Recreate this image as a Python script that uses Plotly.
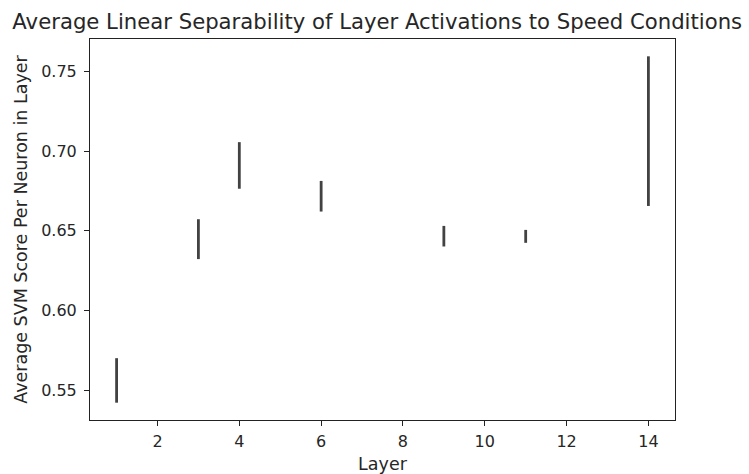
import plotly.graph_objects as go

# Per-layer spread of the average SVM score (lower / upper end of each interval)
layers = [1, 3, 4, 6, 9, 11, 14]
score_low = [0.5423, 0.6323, 0.6764, 0.6621, 0.6402, 0.6425, 0.6656]
score_high = [0.5702, 0.6573, 0.7056, 0.6813, 0.6531, 0.6506, 0.7594]

x_ticks = [2, 4, 6, 8, 10, 12, 14]
y_ticks = [0.55, 0.60, 0.65, 0.70, 0.75]

# Build vertical segments separated by gaps
seg_x, seg_y = [], []
for layer, lo, hi in zip(layers, score_low, score_high):
    seg_x += [layer, layer, None]
    seg_y += [lo, hi, None]

fig = go.Figure()
fig.add_trace(go.Scatter(
    x=seg_x, y=seg_y, mode="lines",
    line=dict(color="#424242", width=2.8),
    showlegend=False, hoverinfo="skip",
))

# 5% padding around the data, matplotlib-style
x_pad = (max(layers) - min(layers)) * 0.05
y_pad = (max(score_high) - min(score_low)) * 0.05

font_family = "DejaVu Sans"
text_color = "#262626"
axis_common = dict(
    showline=True, mirror=True, linecolor="#222222", linewidth=1.1,
    ticks="outside", ticklen=5, tickwidth=1.1, tickcolor="#222222",
    showgrid=False, zeroline=False, automargin=False,
    tickfont=dict(family=font_family, size=16, color=text_color),
)

fig.update_layout(
    width=749, height=474,
    margin=dict(l=90, r=74, t=39, b=54),
    paper_bgcolor="white", plot_bgcolor="white",
    font=dict(family=font_family, color=text_color),
    title=dict(
        text="Average Linear Separability of Layer Activations to Speed Conditions",
        x=0.491, xref="paper", xanchor="center",
        y=1 - 22 / 474, yref="container", yanchor="middle",
        font=dict(family=font_family, size=21.2, color=text_color),
    ),
    xaxis=dict(
        range=[min(layers) - x_pad, max(layers) + x_pad],
        tickvals=x_ticks, ticktext=[str(v) for v in x_ticks],
        ticklabelstandoff=2,
        title=dict(text="Layer", standoff=7,
                   font=dict(family=font_family, size=17.5, color=text_color)),
        **axis_common,
    ),
    yaxis=dict(
        range=[min(score_low) - y_pad, max(score_high) + y_pad],
        tickvals=y_ticks, ticktext=[f"{v:.2f}" for v in y_ticks],
        ticklabelstandoff=4,
        title=dict(text="Average SVM Score Per Neuron in Layer", standoff=9,
                   font=dict(family=font_family, size=17.5, color=text_color)),
        **axis_common,
    ),
)

fig.write_html("out.html")
